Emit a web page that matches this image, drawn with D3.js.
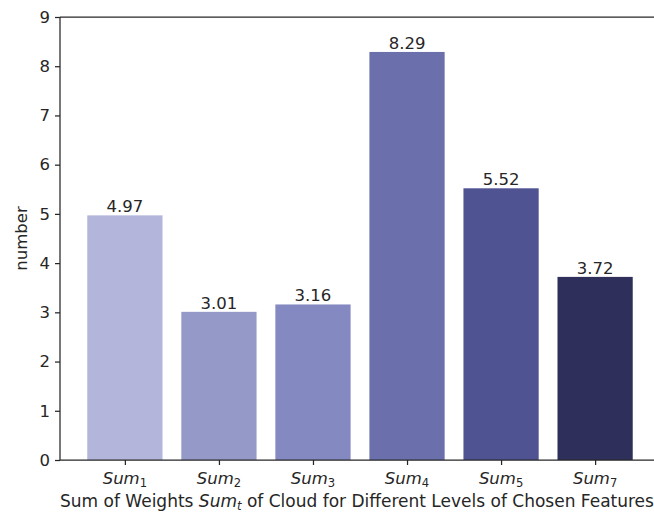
<!DOCTYPE html>
<html>
<head>
<meta charset="utf-8">
<script src="https://cdn.jsdelivr.net/npm/d3@7/dist/d3.min.js"></script>
<style>
  html, body { margin: 0; padding: 0; background: #fff; }
  svg { display: block; }
  text { font-family: "DejaVu Sans", sans-serif; fill: #262626; }
</style>
</head>
<body>
<svg id="chart" width="654" height="512"></svg>
<script>
// Feature-level sums and their bar colours
const categories = ["1", "2", "3", "4", "5", "7"];
const values = [4.97, 3.01, 3.16, 8.29, 5.52, 3.72];
const colors = ["#b3b6da", "#9599c8", "#8589c1", "#6b70ad", "#4f5392", "#2f2f5b"];
const yTicks = [0, 1, 2, 3, 4, 5, 6, 7, 8, 9];

const svg = d3.select("#chart");
const margin = { left: 60, top: 17, bottom: 460 };
const plotRight = 660;

// Bar positions follow a 0.8 bar width with 5% padding on each side
const x = d3.scaleLinear().domain([-0.69, categories.length - 1 + 0.69]).range([margin.left, plotRight]);
const barW = x(0.4) - x(-0.4);
const y = d3.scaleLinear().domain([0, 9]).range([margin.bottom, margin.top]);

const fs = 16.5;

// Bars
svg.selectAll("rect.bar")
  .data(values)
  .join("rect")
  .attr("class", "bar")
  .attr("x", (d, i) => x(i) - barW / 2)
  .attr("width", barW)
  .attr("y", d => y(d))
  .attr("height", d => y(0) - y(d))
  .attr("fill", (d, i) => colors[i]);

// Value labels above bars
svg.selectAll("text.val")
  .data(values)
  .join("text")
  .attr("class", "val")
  .attr("x", (d, i) => x(i))
  .attr("y", d => y(d) - 3)
  .attr("text-anchor", "middle")
  .style("font-size", fs + "px")
  .text(d => d.toFixed(2));

// Spines (left, bottom, top)
const spine = svg.append("g").attr("stroke", "#262626").attr("stroke-width", 1.25).attr("fill", "none");
spine.append("line").attr("x1", margin.left).attr("x2", margin.left).attr("y1", margin.top).attr("y2", margin.bottom);
spine.append("line").attr("x1", margin.left).attr("x2", plotRight).attr("y1", margin.bottom).attr("y2", margin.bottom);
spine.append("line").attr("x1", margin.left).attr("x2", plotRight).attr("y1", margin.top).attr("y2", margin.top);

// Y axis
const yAxis = d3.axisLeft(y).tickValues(yTicks).tickFormat(d3.format("d")).tickSize(5).tickPadding(5);
const gy = svg.append("g").attr("transform", `translate(${margin.left},0)`).call(yAxis);
gy.select(".domain").remove();
gy.selectAll(".tick line").attr("stroke", "#262626").attr("stroke-width", 1.25);
gy.selectAll(".tick text").style("font-size", fs + "px").attr("fill", "#262626").style("font-family", "DejaVu Sans, sans-serif");

// X axis ticks at bar centres
const xAxis = d3.axisBottom(x).tickValues(d3.range(categories.length)).tickFormat("").tickSize(5);
const gx = svg.append("g").attr("transform", `translate(0,${margin.bottom})`).call(xAxis);
gx.select(".domain").remove();
gx.selectAll(".tick line").attr("stroke", "#262626").attr("stroke-width", 1.25);

// X tick labels: italic Sum with subscript index
const xl = svg.selectAll("text.xlab")
  .data(categories)
  .join("text")
  .attr("class", "xlab")
  .attr("x", (d, i) => x(i))
  .attr("y", 484)
  .attr("text-anchor", "middle")
  .style("font-size", fs + "px");
xl.append("tspan").style("font-style", "italic").text("Sum");
xl.append("tspan").attr("dy", 3).style("font-size", (fs * 0.7) + "px").text(d => d);

// Axis titles
const xt = svg.append("text")
  .attr("x", 357)
  .attr("y", 507)
  .attr("text-anchor", "middle")
  .style("font-size", (fs + 0.5) + "px");
xt.append("tspan").text("Sum of Weights ");
xt.append("tspan").style("font-style", "italic").text("Sum");
xt.append("tspan").attr("dy", 3).style("font-size", (fs * 0.7) + "px").style("font-style", "italic").text("t");
xt.append("tspan").attr("dy", -3).text(" of Cloud for Different Levels of Chosen Features");

svg.append("text")
  .attr("transform", `translate(27,${(margin.top + margin.bottom) / 2}) rotate(-90)`)
  .attr("text-anchor", "middle")
  .style("font-size", fs + "px")
  .text("number");
</script>
</body>
</html>
